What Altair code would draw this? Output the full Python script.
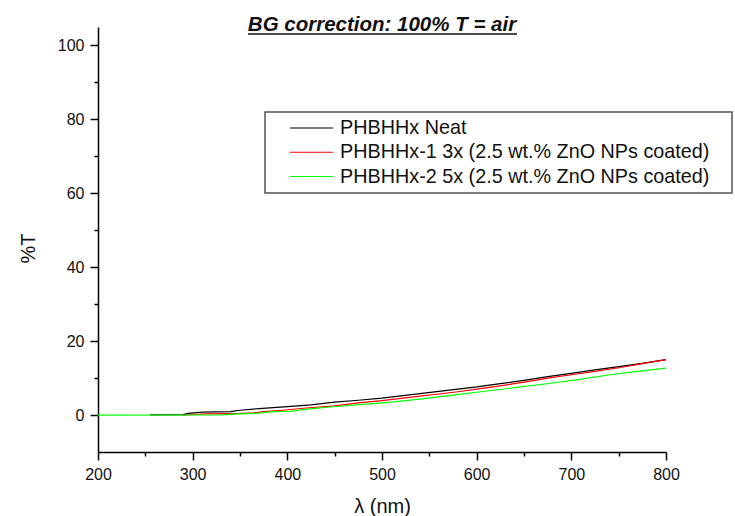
import altair as alt
import pandas as pd

title_text = "BG correction: 100% T = air"
series = [
    "PHBHHx Neat",
    "PHBHHx-1 3x (2.5 wt.% ZnO NPs coated)",
    "PHBHHx-2 5x (2.5 wt.% ZnO NPs coated)",
]
colors = ["#000000", "#ff0000", "#00ff00"]

wl_neat = [255, 290, 295, 310, 340, 350, 370, 400, 425, 450, 475, 500, 520, 540, 560,
           580, 600, 625, 650, 675, 700, 725, 750, 775, 800]
t_neat = [0.05, 0.1, 0.45, 0.8, 0.95, 1.3, 1.75, 2.3, 2.75, 3.5, 4.0, 4.6, 5.2, 5.8, 6.4,
          7.0, 7.6, 8.5, 9.4, 10.4, 11.3, 12.2, 13.1, 14.0, 15.0]

wl_3x = [290, 300, 315, 350, 365, 375, 395, 420, 450, 475, 500, 520, 540, 560, 580,
         600, 625, 650, 675, 700, 725, 750, 775, 800]
t_3x = [0.0, 0.15, 0.3, 0.45, 0.6, 0.9, 1.3, 1.9, 2.5, 3.3, 3.9, 4.5, 5.1, 5.7, 6.3,
        7.0, 7.9, 8.9, 10.0, 10.9, 11.8, 12.8, 13.9, 15.0]

wl_5x = [200, 330, 350, 370, 385, 403, 421, 448, 480, 510, 540, 575, 611, 640, 672,
         705, 741, 770, 800]
t_5x = [0.0, 0.05, 0.3, 0.5, 0.9, 1.0, 1.6, 2.25, 2.9, 3.5, 4.3, 5.4, 6.5, 7.4, 8.4,
        9.5, 10.9, 11.8, 12.7]

x_ticks = list(range(200, 801, 50))
y_ticks = list(range(0, 101, 10))

rows = []
for s, wls, ts in zip(series, [wl_neat, wl_3x, wl_5x], [t_neat, t_3x, t_5x]):
    for w, t in zip(wls, ts):
        rows.append({"series": s, "wl": w, "T": t})
df = pd.DataFrame(rows)

FONT = "Liberation Sans"
W, H = 568, 425

x_axis = alt.Axis(
    values=x_ticks,
    labelExpr="datum.value % 100 === 0 ? datum.label : ''",
    tickSize={"condition": {"test": "datum.value % 100 === 0", "value": 8}, "value": 4},
    grid=False, labelFlush=False, labelOverlap=False,
    domainColor="black", domainWidth=1.5, tickColor="black", tickWidth=1.5,
    labelFont=FONT, labelFontSize=16, labelColor="#111", labelPadding=6,
    title="λ (nm)", titleFont=FONT, titleFontSize=20, titleFontWeight="normal",
    titleColor="#111", titleX=W / 2, titleY=54, titleBaseline="middle", titleAlign="center",
)
y_axis = alt.Axis(
    values=y_ticks,
    labelExpr="datum.value % 20 === 0 ? datum.label : ''",
    tickSize={"condition": {"test": "datum.value % 20 === 0", "value": 8}, "value": 4},
    grid=False, labelFlush=False, labelOverlap=False,
    domainColor="black", domainWidth=1.5, tickColor="black", tickWidth=1.5,
    labelFont=FONT, labelFontSize=16, labelColor="#111", labelPadding=6,
    title="%T", titleFont=FONT, titleFontSize=20, titleFontWeight="normal",
    titleColor="#111", titleX=-70, titleY=221, titleBaseline="middle", titleAlign="center",
    titleAngle=270,
)

lines = alt.Chart(df).mark_line(strokeWidth=1.2).encode(
    x=alt.X("wl:Q", scale=alt.Scale(domain=[200, 800], nice=False, zero=False), axis=x_axis),
    y=alt.Y("T:Q", scale=alt.Scale(domain=[-10, 105], nice=False, zero=False), axis=y_axis),
    color=alt.Color("series:N", scale=alt.Scale(domain=series, range=colors), legend=None),
)

one = pd.DataFrame({"t": [title_text]})
title = alt.Chart(one).mark_text(
    font=FONT, fontSize=20.5, fontWeight="bold", fontStyle="italic",
    align="center", baseline="alphabetic", color="#111",
).encode(x=alt.value(W / 2), y=alt.value(4), text="t:N")
underline = alt.Chart(one).mark_rule(strokeWidth=1.5, color="#111").encode(
    x=alt.value(150), x2=alt.value(419), y=alt.value(7)
)

box = alt.Chart(one).mark_rect(fill="white", stroke="#555", strokeWidth=1.5).encode(
    x=alt.value(167), x2=alt.value(634), y=alt.value(85), y2=alt.value(166)
)
leg_df = pd.DataFrame({"series": series, "row": list(range(len(series)))})
row_y = alt.Y("row:Q", scale=alt.Scale(domain=[0, 2], range=[101, 149.5]), axis=None)
leg_lines = alt.Chart(leg_df).mark_rule(strokeWidth=1.2).encode(
    x=alt.value(192), x2=alt.value(235), y=row_y,
    color=alt.Color("series:N", scale=alt.Scale(domain=series, range=colors), legend=None),
)
leg_text = alt.Chart(leg_df).mark_text(
    font=FONT, fontSize=19.8, align="left", baseline="middle", color="#111"
).encode(x=alt.value(242), y=row_y, text="series:N")

chart = alt.layer(lines, title, underline, box, leg_lines, leg_text).resolve_scale(
    y="independent"
).properties(
    width=W, height=H,
    autosize=alt.AutoSizeParams(type="none"),
    padding={"left": 98, "top": 27, "right": 735 - 98 - W, "bottom": 516 - 27 - H},
).configure_view(stroke=None)

chart.save("out.html", embed_options={"renderer": "svg", "actions": False})
